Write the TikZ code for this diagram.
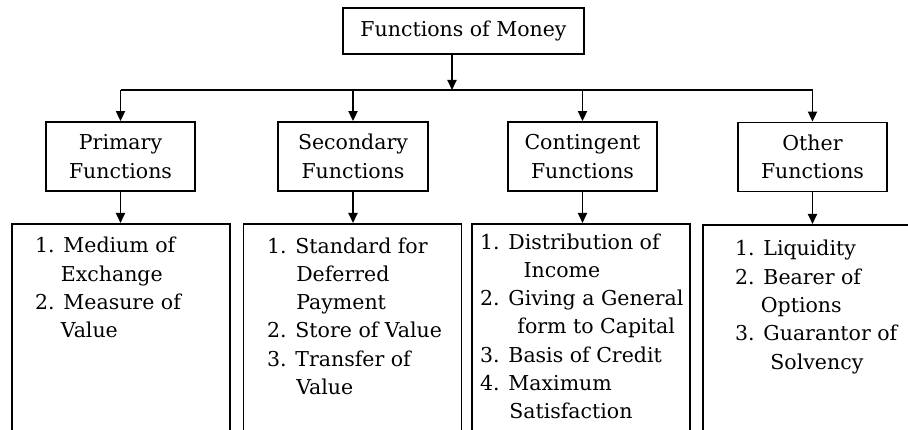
\documentclass[tikz,border=0pt]{standalone}
\usepackage{fontspec}
\setmainfont{DejaVu Serif}
\usetikzlibrary{arrows.meta}
\newcommand\ind[1][1.25em]{\hspace*{#1}}
\begin{document}
\begin{tikzpicture}[x=1pt,y=-1pt,
  box/.style={draw, line width=1.8pt, inner sep=0pt},
  head/.style={box, minimum width=149pt, minimum height=69pt, align=center,
    font=\fontsize{20.5}{28.3}\selectfont},
  listbox/.style={box, minimum width=218pt, minimum height=230pt, anchor=north},
  items/.style={anchor=base west, align=left, inner sep=0pt,
    font=\fontsize{20.5}{28.3}\selectfont},
  link/.style={line width=1.8pt, -{Triangle[length=10pt,width=9pt]}},
  busline/.style={line width=1.8pt}]
\useasboundingbox (0,0) rectangle (908,430);
\fill[white] (0,0) rectangle (908,430);
\clip (0,0) rectangle (908,430);

% root
\node[box, minimum width=241pt, minimum height=46pt,
  font=\fontsize{20.5}{24}\selectfont] (root) at (463.5,31) {Functions of Money};
\coordinate (bus) at (452,90);

% second level
\node[head] (prim) at (120.5,156.5) {Primary\\Functions};
\node[head, minimum width=150pt] (sec) at (353,156.5) {Secondary\\Functions};
\node[head] (cont) at (582.5,156.5) {Contingent\\Functions};
\node[head] (oth) at (812.5,157) {Other\\Functions};

% list frames (they run past the lower edge)
\node[listbox] (pl) at (121,223) {};
\node[listbox] (sl) at (352.5,223) {};
\node[listbox] (cl) at (581,223) {};
\node[listbox] (ol) at (812,224) {};

% list texts, placed by the baseline of their last line
\node[items] (pt) at (35,{253+3*28.3}) {1. Medium of\\\ind Exchange\\2. Measure of\\\ind Value};
\node[items] (st) at (267,{253+5*28.3}) {1. Standard for\\\ind[1.1em] Deferred\\\ind[1.1em] Payment\\2. Store of Value\\3. Transfer of\\\ind[1.1em] Value};
\node[items] (ct) at (480,{249+6*28.3}) {1. Distribution of\\\ind[1.8em] Income\\2. Giving a General\\\ind[1.5em] form to Capital\\3. Basis of Credit\\4. Maximum\\\ind[1.1em] Satisfaction};
\node[items] (ot) at (735,{256+4*28.3}) {1. Liquidity\\2. Bearer of\\\ind Options\\3. Guarantor of\\\ind[1.4em] Solvency};

% connectors
\draw[link] (root.south -| bus) -- (bus);
\draw[busline] (prim.north |- bus) -- (oth.north |- bus);
\foreach \n in {prim,sec,cont,oth}
  \draw[link] (\n.north |- bus) -- (\n.north);
\draw[link] (prim.south) -- (prim.south |- pl.north);
\draw[link] (sec.south) -- (sec.south |- sl.north);
\draw[link] (cont.south) -- (cont.south |- cl.north);
\draw[link] (oth.south) -- (oth.south |- ol.north);
\end{tikzpicture}
\end{document}
